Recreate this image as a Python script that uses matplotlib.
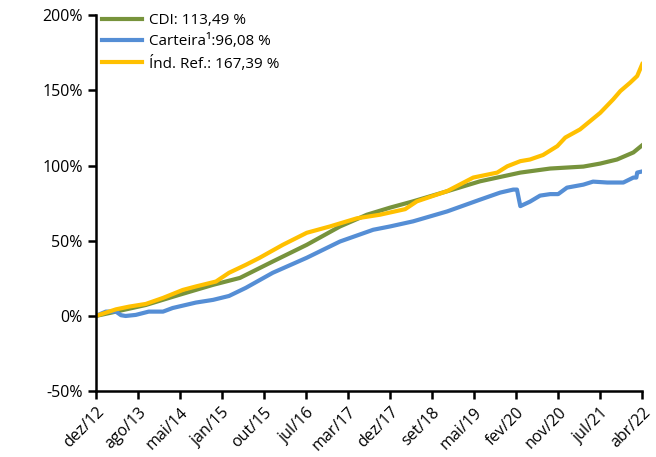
import matplotlib
matplotlib.use("Agg")
import matplotlib.pyplot as plt

# tick labels (category axis, evenly spaced)
tick_labels = ["dez/12", "ago/13", "mai/14", "jan/15", "out/15", "jul/16", "mar/17",
               "dez/17", "set/18", "mai/19", "fev/20", "nov/20", "jul/21", "abr/22"]

# positions in tick units (0 = dez/12, 13 = abr/22), values in %
t_cdi = [0, 0.48, 1.19, 1.98, 2.79, 3.43, 4.21, 5.02, 5.81, 6.45, 7.0, 7.55, 8.36, 9.14,
         10.1, 10.81, 11.6, 12.0, 12.4, 12.79, 13.0]
cdi = [0, 2.9, 7.3, 14, 20.7, 25.3, 36.2, 47.3, 59.5, 67.3, 72, 76.2, 82.9, 89.5,
       95.3, 98, 99.3, 101.3, 104, 108.7, 113.49]

t_ref = [0, 0.48, 0.79, 1.19, 1.6, 2.07, 2.38, 2.86, 3.17, 3.57, 3.9, 4.45, 5.02, 5.57,
         6.21, 6.76, 7.36, 7.64, 8.36, 8.98, 9.55, 9.79, 10.1, 10.33, 10.64, 10.98, 11.17,
         11.52, 11.76, 12.0, 12.31, 12.48, 12.71, 12.88, 13.0]
ind_ref = [0, 4.4, 6.2, 8, 12, 17.3, 19.6, 22.9, 28.7, 34, 38.7, 47.3, 55.3, 59.5,
           64.9, 67.3, 71, 76.2, 83, 92, 95.3, 99.5, 102.9, 104, 107, 112.9, 118.6,
           124, 129.5, 135, 144, 149.5, 155, 159.5, 167.39]

t_cart = [0, 0.24, 0.48, 0.6, 0.71, 0.95, 1.26, 1.6, 1.83, 2.38, 2.79, 3.17, 3.57, 4.21,
          5.02, 5.81, 6.6, 7.0, 7.55, 8.36, 9.14, 9.62, 9.93, 10.02, 10.1, 10.33, 10.57,
          10.81, 11.0, 11.21, 11.6, 11.83, 12.17, 12.55, 12.79, 12.86, 12.88, 13.0]
carteira = [0, 2.9, 2.9, 0.5, 0, 0.7, 2.9, 2.9, 5.3, 8.9, 10.7, 13.3, 18.7, 28.7,
            38.7, 49.5, 57.3, 59.5, 62.9, 69.5, 77.3, 82, 84, 84, 73, 76, 80,
            81, 81, 85.3, 87.3, 89.3, 88.7, 88.7, 92, 92, 95.3, 96.08]

plt.rcParams['font.family'] = ['Open Sans', 'DejaVu Sans']

fig = plt.figure(figsize=(6.56, 4.57), dpi=100)
ax = fig.add_axes([0.146, 0.144, 0.833, 0.823])

ax.plot(t_cdi, cdi, color='#77933C', lw=3, label='CDI: 113,49 %')
ax.plot(t_cart, carteira, color='#558ED5', lw=3, label='Carteira¹:96,08 %')
ax.plot(t_ref, ind_ref, color='#FFC000', lw=3, label='Índ. Ref.: 167,39 %')

ax.set_xlim(0, 13)
ax.set_ylim(-50, 200)
ax.set_yticks([-50, 0, 50, 100, 150, 200])
ax.set_yticklabels(['-50%', '0%', '50%', '100%', '150%', '200%'])
ax.set_xticks(range(len(tick_labels)))
ax.set_xticklabels(tick_labels, rotation=45, ha='right', rotation_mode='anchor')

for s in ['top', 'right']:
    ax.spines[s].set_visible(False)
for s in ['left', 'bottom']:
    ax.spines[s].set_linewidth(1.8)
ax.tick_params(axis='both', width=1.8, length=6, labelsize=11.5, direction='out')

ax.legend(loc='upper left', bbox_to_anchor=(0.0, 1.022), frameon=False, fontsize=11,
          borderaxespad=0, handlelength=2.6, labelspacing=0.42, handletextpad=0.5)

plt.savefig("out.png", dpi=100)
